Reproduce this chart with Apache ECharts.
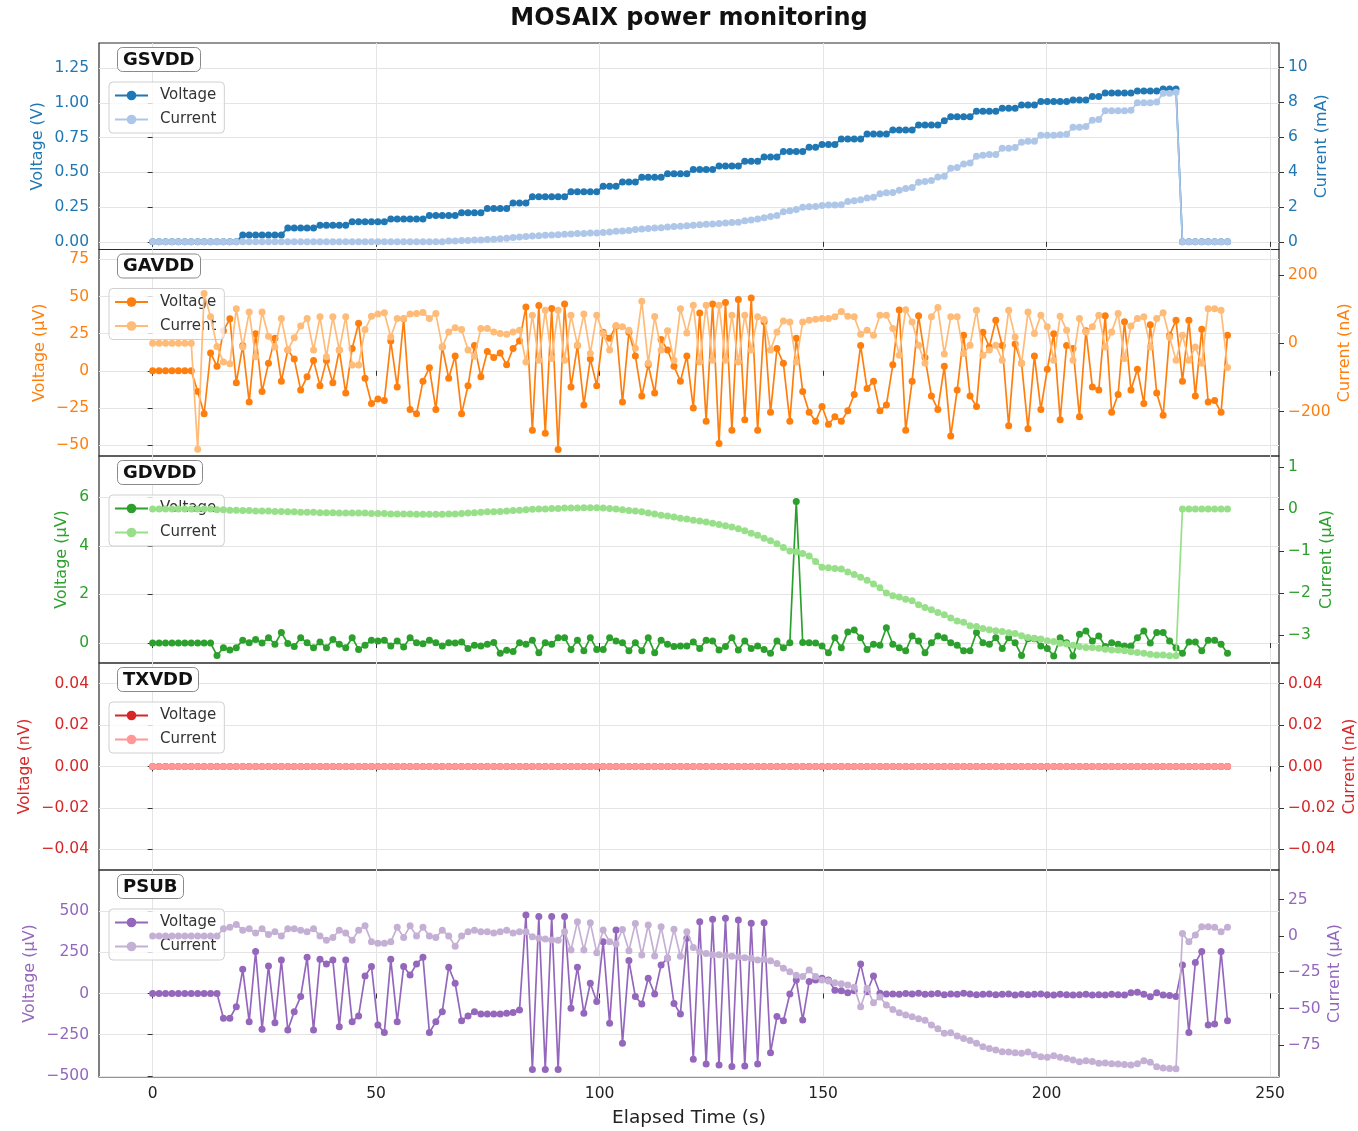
<!DOCTYPE html>
<html><head><meta charset="utf-8">
<script src="https://cdn.jsdelivr.net/npm/echarts@6/dist/echarts.min.js"></script>
<style>html,body{margin:0;padding:0;background:#fff}#c{width:1358px;height:1131px}</style>
</head><body><div id="c"></div>
<script>
// ---------------- DATA ----------------
const time = [
0,1.44,2.88,4.32,5.76,7.2,8.64,10.08,11.52,12.96,
14.4,15.84,17.28,18.72,20.16,21.6,23.04,24.48,25.92,27.36,
28.8,30.24,31.68,33.12,34.56,36,37.44,38.88,40.32,41.76,
43.2,44.64,46.08,47.52,48.96,50.4,51.84,53.28,54.72,56.16,
57.6,59.04,60.48,61.92,63.36,64.8,66.24,67.68,69.12,70.56,
72,73.44,74.88,76.32,77.76,79.2,80.64,82.08,83.52,84.96,
86.4,87.84,89.28,90.72,92.16,93.6,95.04,96.48,97.92,99.36,
100.8,102.24,103.68,105.12,106.56,108,109.44,110.88,112.32,113.76,
115.2,116.64,118.08,119.52,120.96,122.4,123.84,125.28,126.72,128.16,
129.6,131.04,132.48,133.92,135.36,136.8,138.24,139.68,141.12,142.56,
144,145.44,146.88,148.32,149.76,151.2,152.64,154.08,155.52,156.96,
158.4,159.84,161.28,162.72,164.16,165.6,167.04,168.48,169.92,171.36,
172.8,174.24,175.68,177.12,178.56,180,181.44,182.88,184.32,185.76,
187.2,188.64,190.08,191.52,192.96,194.4,195.84,197.28,198.72,200.16,
201.6,203.04,204.48,205.92,207.36,208.8,210.24,211.68,213.12,214.56,
216,217.44,218.88,220.32,221.76,223.2,224.64,226.08,227.52,228.96,
230.4,231.84,233.28,234.72,236.16,237.6,239.04,240.48];

const gsvddVoltage = [
0,0,0,0,0,0,0,0,0,0,0,0,0,0,
0.05,0.05,0.05,0.05,0.05,0.05,0.05,
0.10,0.10,0.10,0.10,0.10,
0.12,0.12,0.12,0.12,0.12,
0.145,0.145,0.145,0.145,0.145,0.145,
0.165,0.165,0.165,0.165,0.165,0.165,
0.19,0.19,0.19,0.19,0.19,
0.21,0.21,0.21,0.21,
0.24,0.24,0.24,0.24,
0.28,0.28,0.28,
0.325,0.325,0.325,0.325,0.325,0.325,
0.36,0.36,0.36,0.36,0.36,
0.40,0.40,0.40,
0.43,0.43,0.43,
0.465,0.465,0.465,0.465,
0.49,0.49,0.49,0.49,
0.52,0.52,0.52,0.52,
0.545,0.545,0.545,0.545,
0.58,0.58,0.58,
0.61,0.61,0.61,
0.65,0.65,0.65,0.65,
0.68,0.68,
0.70,0.70,0.70,
0.74,0.74,0.74,0.74,
0.775,0.775,0.775,0.775,
0.805,0.805,0.805,0.805,
0.84,0.84,0.84,0.84,
0.87,
0.90,0.90,0.90,0.90,
0.94,0.94,0.94,0.94,
0.96,0.96,0.96,
0.985,0.985,0.985,
1.01,1.01,1.01,1.01,1.01,
1.02,1.02,1.02,
1.045,1.045,
1.07,1.07,1.07,1.07,1.07,
1.085,1.085,1.085,1.085,
1.10,1.10,1.10,
0,0,0,0,0,0,0,0];

const gsvddCurrent = [
0,0,0,0,0,0,0,0,0,0,
0,0,0,0,0,0,0,0,0,0,
0,0,0,0,0,0,0,0,0,0,
0,0,0,0,0,0,0,0,0,0,
0,0,0,0,0,0,
0.04,0.05,0.07,0.08,0.1,
0.11,0.13,0.15,0.17,0.2,
0.24,0.27,0.3,0.33,0.35,
0.37,0.39,0.41,0.43,0.45,
0.47,0.48,0.5,0.51,0.53,
0.56,0.6,0.62,0.65,0.7,
0.73,0.76,0.79,0.81,0.84,
0.87,0.89,0.92,0.95,0.97,
1.0,1.02,1.05,1.08,1.1,
1.12,1.2,1.25,1.3,1.38,
1.45,1.5,1.72,1.78,1.85,
1.98,2.0,2.02,2.08,2.1,
2.1,2.12,2.3,2.35,2.4,
2.5,2.55,2.75,2.8,2.82,
2.95,3.05,3.1,3.4,3.45,
3.5,3.7,3.75,4.2,4.25,
4.45,4.5,4.9,4.95,5.0,
5.0,5.35,5.35,5.4,5.7,
5.75,5.75,6.1,6.1,6.1,
6.12,6.15,6.55,6.55,6.6,
6.95,7.0,7.5,7.5,7.5,
7.5,7.52,7.95,7.95,7.95,
8.0,8.5,8.5,8.55,
0,0,0,0,0,0,0,0];

const gavddVoltage = [
0,0,0,0,0,0,0,
-14,-29,12,3,27,35,-8,17,-21,25,-14,
5,
22,-7,14,8,-13,-4,7,-10,7,-8,14,-15,15,32,
-5,
-22,-19,-20,20,-11,35,-26,-29,-7,2,-26,16,-5,
10,
-29,-10,17,-4,13,9,
12,4,15,20,
43,-40,44,-42,42,-53,45,-11,17,-23,
8,-10,26,22,30,-21,26,10,-17,4,
-15,21,14,3,-7,10,-25,39,-34,45,
-49,46,-40,48,-33,49,-40,33,-28,15,
5,-34,22,-14,-28,-34,-24,-36,-31,-34,
-27,-16,17,-12,-7,-27,-23,4,41,
-40,-7,37,9,-17,-26,3,-44,-13,24,
-17,-24,26,16,34,17,-37,18,5,-39,
10,-26,1,25,-33,17,15,-31,27,-11,
-13,37,-28,-16,33,-13,1,-22,31,-15,
-30,24,34,-7,34,-17,28,-21,-20,-28,
24];

const gavddCurrent = [
0,0,0,0,0,0,0,
-310,145,77,-10,-55,-60,101,-11,91,-40,91,
20,
-11,72,-20,16,50,72,-20,77,-40,77,-20,77,-64,-64,
40,
79,85,89,18,72,72,85,87,90,72,87,-11,33,
45,
40,-20,-38,43,43,33,
28,26,33,38,
-55,82,-50,96,-45,96,-50,82,-5,85,
-30,82,28,-20,52,48,38,-15,123,-59,
78,-20,36,-50,101,30,111,-55,111,-50,
111,-50,82,-55,82,-20,77,69,-20,33,
65,62,-55,62,67,70,72,72,77,93,
79,77,26,38,23,
82,82,43,-35,98,62,-6,-59,77,104,
-32,77,77,-30,-6,96,-35,-20,-6,-50,
96,18,-59,91,28,82,48,-50,79,38,
-50,72,33,48,82,-11,33,87,-45,50,
72,77,-11,72,89,17,-50,23,-50,-11,
-59,101,101,96,-71];

const gdvddVoltage = [
0,0,0,0,0,0,0,0,0,0,
-0.51,-0.19,-0.29,-0.19,0.12,0.01,0.15,0,0.22,-0.05,
0.43,-0.02,-0.14,0.22,0.01,-0.19,0.04,-0.19,0.15,-0.05,
-0.19,0.22,-0.26,-0.09,0.12,0.08,0.12,-0.12,0.08,-0.16,
0.22,0.01,-0.03,0.12,0.01,-0.12,0.01,0,0.04,-0.22,
-0.09,-0.12,-0.05,0.02,-0.42,-0.3,-0.35,0.01,
-0.05,0.12,-0.4,0.01,-0.05,0.22,0.22,-0.26,0.12,-0.32,
0.22,-0.26,-0.26,0.22,0.08,0.01,-0.32,0.01,-0.32,0.22,
-0.4,0.12,-0.05,-0.14,-0.12,-0.12,0.04,-0.22,0.12,0.08,
-0.29,-0.14,0.22,-0.29,0.08,-0.22,-0.12,-0.26,-0.42,0.08,
-0.19,0.01,
5.82,0.02,0.01,0,-0.12,-0.4,0.22,-0.19,0.45,0.54,0.22,-0.26,-0.05,-0.09,
0.63,-0.05,-0.19,-0.32,0.29,0.08,-0.4,0.01,0.29,0.22,
0.01,-0.09,-0.32,-0.32,0.43,0.01,-0.05,0.22,-0.22,0.22,
0.01,-0.51,0.18,0.18,-0.12,-0.22,-0.53,0.22,0.01,-0.53,
0.36,0.5,0.08,0.29,-0.14,0.01,-0.05,-0.12,-0.12,0.22,
0.5,0,0.43,0.43,0.08,-0.19,-0.42,0.04,0.04,-0.32,
0.12,0.12,-0.05,-0.42];

const gdvddCurrent = [
0,0,0,0,0,0,0,0,0,0,
-0.02,-0.02,-0.03,-0.03,-0.04,-0.04,-0.05,-0.05,
-0.05,-0.06,-0.06,-0.07,-0.07,-0.08,-0.08,-0.08,
-0.09,-0.09,-0.09,-0.1,-0.1,-0.1,-0.1,-0.1,
-0.11,-0.11,-0.11,-0.12,-0.12,-0.12,-0.12,-0.13,-0.13,-0.13,
-0.13,-0.13,-0.12,-0.12,-0.11,-0.1,-0.09,
-0.08,-0.07,-0.07,-0.06,-0.05,
-0.04,-0.03,-0.02,-0.01,0,
0,0.01,0.01,0.02,0.02,0.02,0.03,0.03,
0.03,0.02,0.01,0,
-0.02,-0.04,-0.05,-0.07,
-0.1,-0.12,-0.15,-0.17,
-0.19,-0.22,-0.24,-0.27,-0.29,
-0.31,-0.34,-0.37,-0.4,-0.43,
-0.47,-0.52,-0.58,-0.63,-0.7,
-0.76,-0.83,-0.92,-1,
-1.02,-1.06,-1.12,
-1.25,-1.39,-1.4,-1.42,
-1.43,-1.5,-1.56,-1.63,
-1.7,-1.79,-1.88,-2,
-2.07,-2.1,-2.15,-2.19,
-2.28,-2.35,-2.4,-2.47,
-2.52,-2.6,-2.67,-2.7,
-2.78,-2.8,-2.85,-2.88,
-2.9,-2.92,-2.95,-2.97,
-3.02,-3.06,-3.08,-3.1,
-3.14,-3.16,-3.2,-3.22,
-3.25,-3.28,-3.3,-3.3,
-3.32,-3.34,-3.36,-3.36,-3.38,
-3.4,-3.42,-3.44,-3.46,
-3.48,-3.48,-3.5,-3.5,
0,0,0,0,0,0,0,0];

const txvddVoltage = [
0,0,0,0,0,0,0,0,0,0,0,0,
0,0,0,0,0,0,0,0,0,0,0,0,
0,0,0,0,0,0,0,0,0,0,0,0,
0,0,0,0,0,0,0,0,0,0,0,0,
0,0,0,0,0,0,0,0,0,0,0,0,
0,0,0,0,0,0,0,0,0,0,0,0,
0,0,0,0,0,0,0,0,0,0,0,0,
0,0,0,0,0,0,0,0,0,0,0,0,
0,0,0,0,0,0,0,0,0,0,0,0,
0,0,0,0,0,0,0,0,0,0,0,0,
0,0,0,0,0,0,0,0,0,0,0,0,
0,0,0,0,0,0,0,0,0,0,0,0,
0,0,0,0,0,0,0,0,0,0,0,0,
0,0,0,0,0,0,0,0,0,0,0,0];

const txvddCurrent = [
0,0,0,0,0,0,0,0,0,0,0,0,
0,0,0,0,0,0,0,0,0,0,0,0,
0,0,0,0,0,0,0,0,0,0,0,0,
0,0,0,0,0,0,0,0,0,0,0,0,
0,0,0,0,0,0,0,0,0,0,0,0,
0,0,0,0,0,0,0,0,0,0,0,0,
0,0,0,0,0,0,0,0,0,0,0,0,
0,0,0,0,0,0,0,0,0,0,0,0,
0,0,0,0,0,0,0,0,0,0,0,0,
0,0,0,0,0,0,0,0,0,0,0,0,
0,0,0,0,0,0,0,0,0,0,0,0,
0,0,0,0,0,0,0,0,0,0,0,0,
0,0,0,0,0,0,0,0,0,0,0,0,
0,0,0,0,0,0,0,0,0,0,0,0];

const psubVoltage = [
0,0,0,0,0,0,0,0,0,0,0,
-150,-150,-80,146,-171,254,-217,167,-177,203,
-221,-110,-19,219,-221,207,179,203,-201,203,
-171,-136,106,163,-191,-237,207,-171,163,112,
179,219,-237,-171,-110,159,62,-165,-136,-110,
-124,-124,-124,-124,-120,-116,-100,
476,-460,466,-460,466,-460,466,-90,159,-120,
62,-49,314,-181,385,-302,199,-19,-64,92,
-3,173,213,-60,-124,334,-399,435,-427,449,
-433,456,-443,445,-439,425,-427,429,-359,-140,
-165,-3,82,-161,72,82,92,82,20,17,
4,17,179,10,106,1,-3,-3,
-5,0,-3,2,-5,-3,0,-8,-3,-5,
2,-3,-8,-5,-3,-8,-5,-3,-10,-5,
-8,-5,-3,-8,-10,-5,-8,-10,-8,-5,
-10,-8,-10,-5,-8,-10,5,8,-5,-20,
5,-10,-12,
-19,173,-237,187,254,-191,-185,254,-165];

const psubCurrent = [
0,0,0,0,0,0,0,0,0,0,0,
5,6,8,4,5,2,5,1,3,0,
5,5,4,3,5,0,-3,-1,4,2,
-3,4,7,-4,-5,-5,-4,6,-1,7,
0,6,0,-1,4,0,-7,0,3,4,
3,3,2,3,4,2,3,
3,-0.5,-1.6,-2,-2.8,-3,3,-9.7,9.9,-9.7,
9.2,-11.5,4.1,-4,-5.5,4.5,-10.1,8.7,-13.1,7.6,
-13.8,6.4,-15.4,4.6,-14,3,-8,-11,-12,-13,
-13,-13.5,-14,-14.5,-15,-15.4,-16.6,-16,-17,-19,
-22.3,-24.6,-27,-28,-23.5,-28,-30.4,-31,-32.2,-33,
-33.8,-35.4,-48.8,-36,-46,-42,-47.6,-50.6,-52.9,
-54.5,-55.6,-57,-58,-61.4,-64,-67.1,-66.7,-69,-70.6,
-72,-74,-76.3,-77.5,-78.6,-79.8,-80,-80.5,-80.9,-80,
-82,-83.2,-83.5,-82.5,-83.5,-84.5,-85.5,-86.7,-86,-86.5,
-87.8,-87.5,-88,-88.3,-88.6,-89,-88,-86,-87,-90.1,
-91,-91.3,-91.5,
1.8,-3.9,0.7,6.4,6.4,6,3,6];

// tick labels
const xTicks = [0,50,100,150,200,250];
const gsvddVTicks = [0,0.25,0.5,0.75,1,1.25];
const gsvddITicks = [0,2,4,6,8,10];
const gavddVTicks = [-50,-25,0,25,50,75];
const gavddITicks = [-200,0,200];
const gdvddVTicks = [0,2,4,6];
const gdvddITicks = [-3,-2,-1,0,1];
const txvddVTicks = [-0.04,-0.02,0,0.02,0.04];
const txvddITicks = [-0.04,-0.02,0,0.02,0.04];
const psubVTicks = [-500,-250,0,250,500];
const psubITicks = [-75,-50,-25,0,25];

// ---------------- LAYOUT / STYLE ----------------
const FONT = 'DejaVu Sans';
const TICK_FS = 15.5;
const panels = [
 {name:'GSVDD', v:gsvddVoltage, i:gsvddCurrent, cV:'#1f77b4', cI:'#aec7e8', vName:'Voltage (V)', iName:'Current (mA)',
  vMin:-0.055, vMax:1.43, iMin:-0.44, iMax:11.37, vT:gsvddVTicks, iT:gsvddITicks, vD:2, iD:0, top:43, h:206.5, vGap:53, iGap:35, nFs:16},
 {name:'GAVDD', v:gavddVoltage, i:gavddCurrent, cV:'#ff7f0e', cI:'#ffbb78', vName:'Voltage (µV)', iName:'Current (nA)',
  vMin:-57.4, vMax:81.7, iMin:-330, iMax:274, vT:gavddVTicks, iT:gavddITicks, vD:0, iD:0, top:249.5, h:206.5, vGap:51, iGap:58, nFs:16},
 {name:'GDVDD', v:gdvddVoltage, i:gdvddCurrent, cV:'#2ca02c', cI:'#98df8a', vName:'Voltage (µV)', iName:'Current (µA)',
  vMin:-0.82, vMax:7.69, iMin:-3.67, iMax:1.26, vT:gdvddVTicks, iT:gdvddITicks, vD:0, iD:0, top:456, h:207, vGap:29, iGap:40, nFs:16},
 {name:'TXVDD', v:txvddVoltage, i:txvddCurrent, cV:'#d62728', cI:'#ff9896', vName:'Voltage (nV)', iName:'Current (nA)',
  vMin:-0.05, vMax:0.05, iMin:-0.05, iMax:0.05, vT:txvddVTicks, iT:txvddITicks, vD:2, iD:2, top:663, h:207, vGap:66, iGap:63, nFs:15.5},
 {name:'PSUB', v:psubVoltage, i:psubCurrent, cV:'#9467bd', cI:'#c5b0d5', vName:'Voltage (µV)', iName:'Current (µA)',
  vMin:-506, vMax:748, iMin:-97.2, iMax:45.5, vT:psubVTicks, iT:psubITicks, vD:0, iD:0, top:870, h:207, vGap:61, iGap:48, nFs:16}
];

const fmt = d => v => Number(v).toFixed(d).replace('-', '\u2212');
const pairs = arr => time.map((t, k) => [t, arr[k]]);

const grids = [], xAxes = [], yAxes = [], series = [], legends = [];
const titles = [{
  text:'MOSAIX power monitoring', left:689, top:7, textAlign:'center', padding:0,
  textStyle:{fontFamily:FONT, fontSize:24, fontWeight:'bold', color:'#111'}
}];
const problems = [];

panels.forEach((p, k) => {
  if (p.v.length !== time.length) problems.push(p.name + ' V ' + p.v.length);
  if (p.i.length !== time.length) problems.push(p.name + ' I ' + p.i.length);
  grids.push({left:99, top:p.top, width:1180, height:p.h, show:true, borderColor:'#2b2b2b', borderWidth:1.2,
              backgroundColor:'transparent', containLabel:false, outerBoundsMode:'none'});
  const last = k === panels.length - 1;
  xAxes.push({
    type:'value', gridIndex:k, min:-12, max:252,
    axisLine:{show:false},
    axisTick:{show:true, length:5, lineStyle:{color:'#333'}, customValues:xTicks},
    axisLabel:{show:last, customValues:xTicks, fontFamily:FONT, fontSize:TICK_FS, color:'#222', margin:9},
    splitLine:{show:true, lineStyle:{color:'#e4e4e4', width:1}},
    name: last ? 'Elapsed Time (s)' : '', nameLocation:'middle', nameGap:32, nameMoveOverlap:false,
    nameTextStyle:{fontFamily:FONT, fontSize:18.5, color:'#222'}
  });
  yAxes.push({
    type:'value', gridIndex:k, position:'left', min:p.vMin, max:p.vMax,
    axisLine:{show:false},
    axisTick:{show:true, length:5, lineStyle:{color:'#333'}, customValues:p.vT},
    axisLabel:{customValues:p.vT, formatter:fmt(p.vD), fontFamily:FONT, fontSize:TICK_FS, color:p.cV, margin:10},
    splitLine:{show:true, lineStyle:{color:'#e4e4e4', width:1}},
    name:p.vName, nameLocation:'middle', nameGap:p.vGap, nameMoveOverlap:false,
    nameTextStyle:{fontFamily:FONT, fontSize:p.nFs, color:p.cV}
  });
  yAxes.push({
    type:'value', gridIndex:k, position:'right', min:p.iMin, max:p.iMax,
    axisLine:{show:false},
    axisTick:{show:true, length:5, lineStyle:{color:'#333'}, customValues:p.iT},
    axisLabel:{customValues:p.iT, formatter:fmt(p.iD), fontFamily:FONT, fontSize:TICK_FS, color:p.cV, margin:9},
    splitLine:{show:false},
    name:p.iName, nameLocation:'middle', nameGap:p.iGap, nameMoveOverlap:false,
    nameTextStyle:{fontFamily:FONT, fontSize:p.nFs, color:p.cV}
  });
  series.push({
    type:'line', name:p.name + ' Voltage', xAxisIndex:k, yAxisIndex:2*k, data:pairs(p.v),
    symbol:'circle', symbolSize:7, showSymbol:true, z:2,
    lineStyle:{width:1.7, color:p.cV}, itemStyle:{color:p.cV}, emphasis:{disabled:true}
  });
  series.push({
    type:'line', name:p.name + ' Current', xAxisIndex:k, yAxisIndex:2*k+1, data:pairs(p.i),
    symbol:'circle', symbolSize:7, showSymbol:true, z:5,
    lineStyle:{width:1.7, color:p.cI}, itemStyle:{color:p.cI}, emphasis:{disabled:true}
  });
  legends.push({
    data:[p.name + ' Voltage', p.name + ' Current'], left:109, top:p.top + 39, orient:'vertical',
    backgroundColor:'rgba(255,255,255,0.8)', borderColor:'#d0d0d0', borderWidth:1, borderRadius:4,
    padding:[6,8,6,5], itemWidth:33, itemHeight:12, itemGap:9, selectedMode:false, z:3,
    formatter: n => n.split(' ')[1],
    textStyle:{fontFamily:FONT, fontSize:15, color:'#333', padding:[0,0,0,7]}
  });
  titles.push({
    text:p.name, left:117, top:p.top + 4, padding:[4,6,3,6], backgroundColor:'#fff',
    borderColor:'#8a8a8a', borderWidth:1, borderRadius:5,
    textStyle:{fontFamily:FONT, fontSize:18, fontWeight:'bold', color:'#111'}
  });
});

const chart = echarts.init(document.getElementById('c'), null, {renderer:'canvas'});
chart.setOption({
  animation:false,
  backgroundColor:'#fff',
  title:titles, grid:grids, xAxis:xAxes, yAxis:yAxes, series:series, legend:legends,
  graphic: problems.length ? [{type:'text', left:400, top:500, z:100, style:{text:'LEN: ' + problems.join(', '), fill:'red', fontSize:24}}] : []
});
</script>
</body></html>
